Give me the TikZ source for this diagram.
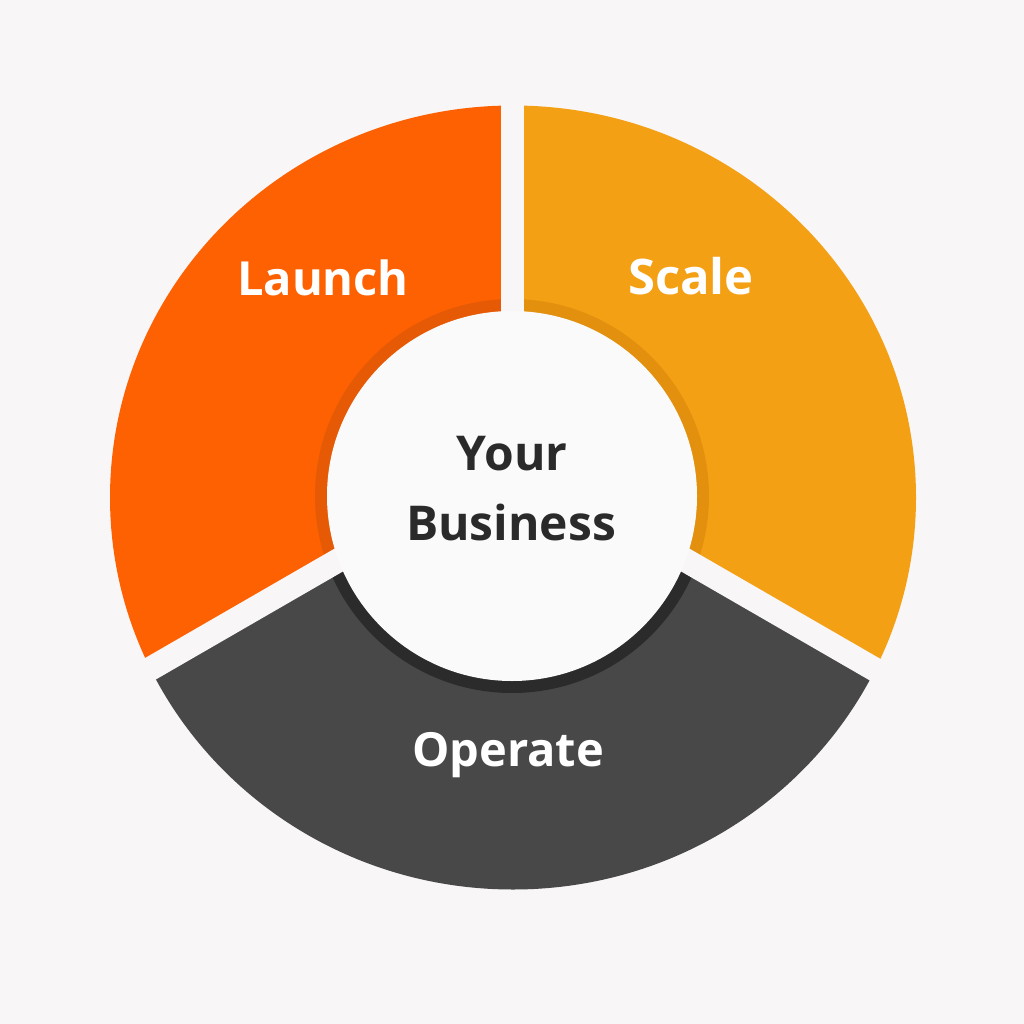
\documentclass[tikz,border=0pt]{standalone}
\usepackage{fontspec}
\setmainfont{Open Sans}
\definecolor{bgc}{HTML}{F8F6F7}
\definecolor{launchc}{HTML}{FD6102}
\definecolor{launchdk}{HTML}{E65A05}
\definecolor{scalec}{HTML}{F4A015}
\definecolor{scaledk}{HTML}{E3900E}
\definecolor{operatec}{HTML}{484848}
\definecolor{operatedk}{HTML}{2B2B2B}
\definecolor{centerc}{HTML}{FAFAFA}
\definecolor{textdk}{HTML}{2A2A2A}
\tikzset{
  launchpoly/.style={insert path={(512,460) -- (512,-600) -- (-600,-600) -- (-354,960) -- cycle}},
  scalepoly/.style={insert path={(512,460) -- (512,-600) -- (1600,-600) -- (1378,960) -- cycle}},
  operatepoly/.style={insert path={(512,460) -- (-354,960) -- (-600,1600) -- (1600,1600) -- (1378,960) -- cycle}},
  gap/.style={bgc, line width=23pt},
  seglabel/.style={text=white, font=\fontsize{47}{54}\selectfont\bfseries, anchor=base},
  hublabel/.style={text=textdk, font=\fontsize{48}{56}\selectfont\bfseries, anchor=base}
}
\begin{document}
\begin{tikzpicture}[x=1pt,y=-1pt]
\fill[bgc] (0,0) rectangle (1024,1024);
\useasboundingbox (0,0) rectangle (1024,1024);
\coordinate (J) at (512,460);
\coordinate (Gup) at (512,-100);
\coordinate (Gleft) at (-354,960);
\coordinate (Gright) at (1378,960);
\begin{scope}
  \clip (513,497.5) ellipse [x radius=403pt, y radius=392pt];
  \fill[launchc, launchpoly];
  \fill[scalec, scalepoly];
  \fill[operatec, operatepoly];
  \begin{scope}
    \clip[launchpoly];
    \fill[launchdk] (512,496) circle [radius=197pt];
  \end{scope}
  \begin{scope}
    \clip[scalepoly];
    \fill[scaledk] (512,496) circle [radius=197pt];
  \end{scope}
  \begin{scope}
    \clip[operatepoly];
    \fill[operatedk] (512,496) circle [radius=197pt];
  \end{scope}
\end{scope}
\draw[gap] (J) -- (Gup);
\draw[gap, line width=24pt] (J) -- (Gleft);
\draw[gap, line width=24pt] (J) -- (Gright);
\fill[centerc] (512,496) circle [radius=185pt];
\node[seglabel] (launch) at (323,295) {Launch};
\node[seglabel, font=\fontsize{49}{56}\selectfont\bfseries] (scale) at (691,294) {Scale};
\node[seglabel] (operate) at (508,766) {Operate};
\node[hublabel] (your) at (512,470) {Your};
\node[hublabel] (business) at (511,540) {Business};
\end{tikzpicture}
\end{document}
